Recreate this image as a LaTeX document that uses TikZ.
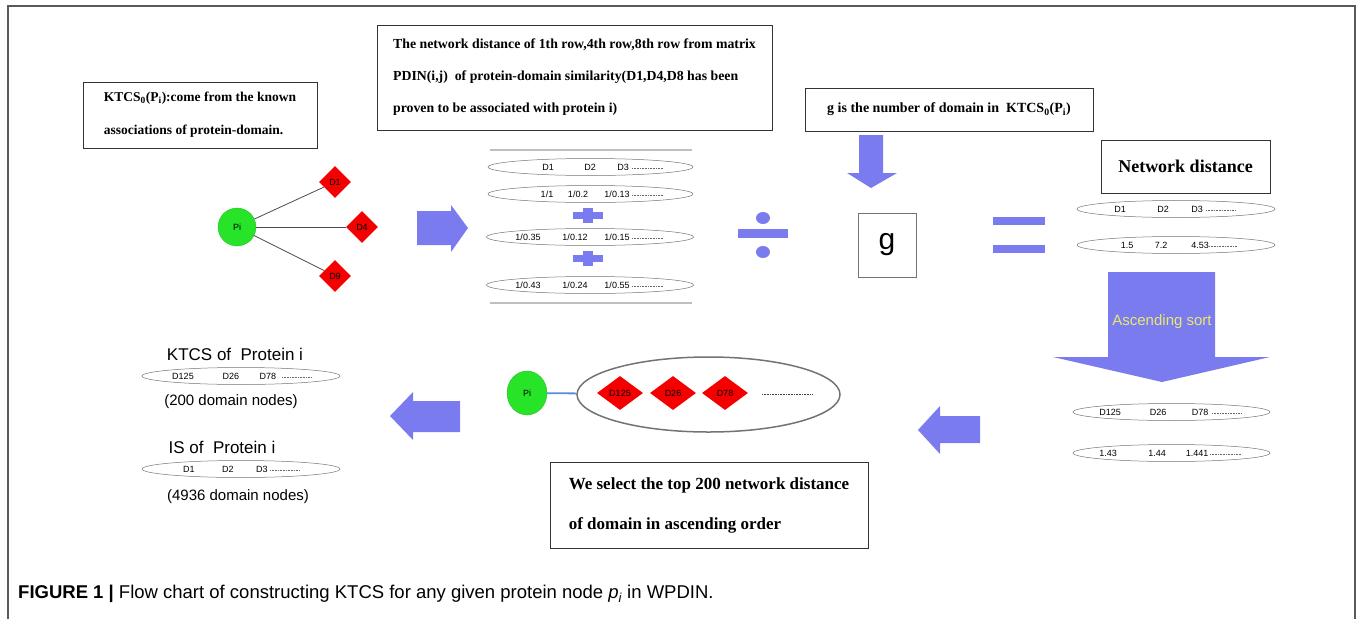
\documentclass[tikz,border=0pt]{standalone}
\usepackage{fontspec}
\setmainfont{Liberation Serif}
\setsansfont{Liberation Sans}
\usetikzlibrary{shapes.geometric}

\definecolor{flowblue}{RGB}{123,123,240}
\definecolor{nodegreen}{RGB}{40,228,40}
\definecolor{domred}{RGB}{245,0,0}
\definecolor{sortyellow}{RGB}{232,232,110}
\definecolor{linkblue}{RGB}{90,140,215}
\newcommand{\ktcsset}{KTCS\textsubscript{0}(P\textsubscript{i})}

\begin{document}
\begin{tikzpicture}[x=1pt,y=-1pt,
  textbox/.style={draw=black!80, line width=0.9pt, rectangle, inner sep=0pt, align=left, font=\bfseries},
  rowoval/.style={ellipse, draw=black!55, line width=0.5pt, inner sep=0pt, minimum height=17pt},
  cell/.style={font=\sffamily\fontsize{9}{9}\selectfont, inner sep=0pt},
  dotrun/.style={draw=black!60, line width=0.6pt, dash pattern=on 0.6pt off 1pt},
  protein/.style={circle, fill=nodegreen, draw=nodegreen!80!black, line width=0.3pt, inner sep=0pt, font=\sffamily\fontsize{9}{9}\selectfont},
  domnode/.style={diamond, fill=domred, inner sep=0pt, font=\sffamily\fontsize{9}{9}\selectfont},
  plaintext/.style={font=\sffamily, inner sep=0pt},
  outerframe/.style={draw=black!65, line width=1.5pt},
  ruleline/.style={draw=black!25, line width=1.2pt}
]
\useasboundingbox (0,0) rectangle (1358,619);

% outer frame
\draw[outerframe] (8,619) -- (8,6) -- (1355,6) -- (1355,619);

% ---- explanation boxes ----
\node[textbox, minimum width=234, minimum height=66, font=\bfseries\fontsize{13.5}{33}\selectfont]
  (kbox) at (200,115) {\ktcsset:come from the known\\associations of protein-domain.};
\node[textbox, minimum width=395, minimum height=105, font=\bfseries\fontsize{13.8}{32}\selectfont]
  (pbox) at (574.5,77.5) {The network distance of 1th row,4th row,8th row from matrix\\PDIN(i,j)\ \ of protein-domain similarity(D1,D4,D8 has been\\proven to be associated with protein i)};
\node[textbox, minimum width=288, minimum height=43, font=\bfseries\fontsize{14}{16}\selectfont]
  (gbox) at (949,109.5) {g is the number of domain in\ \ \ktcsset};
\node[textbox, minimum width=169, minimum height=53, font=\bfseries\fontsize{18}{20}\selectfont]
  (nbox) at (1185.5,166.5) {Network distance};
\node[textbox, minimum width=318, minimum height=86, font=\bfseries\fontsize{17}{40}\selectfont]
  (sbox) at (709,505) {We select the top 200 network distance\\of domain in ascending order};

% ---- known associations of protein i ----
\node[protein, minimum size=38] (pi1) at (237,227) {Pi};
\node[domnode, minimum width=32, minimum height=32] (d1) at (335,182) {D1};
\node[domnode, minimum width=32, minimum height=32] (d4) at (362,227) {D4};
\node[domnode, minimum width=32, minimum height=32] (d9) at (335,276) {D9};
\foreach \d in {d1,d4,d9}
  \draw[black!70, line width=0.8pt] (pi1) -- (\d);

% ---- block arrows ----
\fill[flowblue] (417,211) -- (451,211) -- (451,205) -- (468,228) -- (451,252) -- (451,245) -- (417,245) -- cycle;
\fill[flowblue] (859,135) -- (883,135) -- (883,173) -- (897,173) -- (871,188) -- (847,173) -- (859,173) -- cycle;
\fill[flowblue] (1108,272) -- (1215,272) -- (1215,357) -- (1270,357) -- (1162,382) -- (1053,357) -- (1108,357) -- cycle;
\node[plaintext, text=sortyellow, font=\sffamily\fontsize{15}{15}\selectfont] (sortlbl) at (1162,322) {Ascending sort};
\fill[flowblue] (980,416) -- (940,416) -- (940,406) -- (918,430) -- (940,454) -- (940,443) -- (980,443) -- cycle;
\fill[flowblue] (460,401) -- (413,401) -- (413,392) -- (390,416) -- (413,440) -- (413,432) -- (460,432) -- cycle;

% ---- summed reciprocal distances ----
\draw[ruleline] (490,150) -- (692,150);
\draw[ruleline] (490,303) -- (692,303);
\node[rowoval, minimum width=205] (m1) at (590.5,167) {};
\node[rowoval, minimum width=205] (m2) at (590.5,194) {};
\node[rowoval, minimum width=207] (m3) at (590,237) {};
\node[rowoval, minimum width=207] (m4) at (590,285) {};
\foreach \t/\x [count=\i] in {D1/548, D2/590, D3/623}
  \node[cell] (m1c\i) at (\x,167) {\t};
\foreach \t/\x [count=\i] in {{1/1}/547, {1/0.2}/578, {1/0.13}/617}
  \node[cell] (m2c\i) at (\x,194) {\t};
\foreach \t/\x [count=\i] in {{1/0.35}/528, {1/0.12}/575, {1/0.15}/617}
  \node[cell] (m3c\i) at (\x,237) {\t};
\foreach \t/\x [count=\i] in {{1/0.43}/528, {1/0.24}/575, {1/0.55}/617}
  \node[cell] (m4c\i) at (\x,285) {\t};
\draw[dotrun] (632,168) -- (663,168);
\draw[dotrun] (632,195) -- (663,195);
\draw[dotrun] (632,238) -- (663,238);
\draw[dotrun] (632,286) -- (663,286);
% plus signs
\foreach \y in {215,258} {
  \fill[flowblue] (573,\y-3.5) rectangle (603,\y+3.5);
  \fill[flowblue] (583,\y-7.5) rectangle (593,\y+7.5);
}

% ---- divide by g ----
\fill[flowblue] (763,218) ellipse (7 and 6);
\fill[flowblue] (763,252) ellipse (7 and 6);
\fill[flowblue] (738,229) rectangle (788,238);
\node[draw=black!55, line width=1pt, minimum width=58, minimum height=64, inner sep=0pt,
      font=\sffamily\fontsize{30}{30}\selectfont] (g) at (887,245) {g};
\fill[flowblue] (993,217) rectangle (1045,225);
\fill[flowblue] (993,245) rectangle (1045,253);

% ---- network distance rows ----
\node[rowoval, minimum width=198] (n1) at (1176,209) {};
\node[rowoval, minimum width=198] (n2) at (1176,245) {};
\foreach \t/\x [count=\i] in {D1/1120, D2/1163, D3/1197}
  \node[cell] (n1c\i) at (\x,209) {\t};
\foreach \t/\x [count=\i] in {1.5/1127, 7.2/1161, 4.53/1200}
  \node[cell] (n2c\i) at (\x,245) {\t};
\draw[dotrun] (1206,210) -- (1235,210);
\draw[dotrun] (1209,246) -- (1237,246);

% ---- sorted rows ----
\node[rowoval, minimum width=197] (s1) at (1171.5,412) {};
\node[rowoval, minimum width=197] (s2) at (1171.5,453) {};
\foreach \t/\x [count=\i] in {D125/1110, D26/1158, D78/1200}
  \node[cell] (s1c\i) at (\x,412) {\t};
\foreach \t/\x [count=\i] in {1.43/1108, 1.44/1157, 1.441/1197}
  \node[cell] (s2c\i) at (\x,453) {\t};
\draw[dotrun] (1212,413) -- (1242,413);
\draw[dotrun] (1210,454) -- (1242,454);

% ---- selected top domains ----
\node[protein, ellipse, minimum width=40, minimum height=44] (pi2) at (527,393) {Pi};
\node[ellipse, draw=black!55, line width=1.5pt, minimum width=263, minimum height=75] (top) at (708.5,394.5) {};
\draw[linkblue, line width=1.8pt] (pi2) -- (top);
\node[domnode, minimum width=46, minimum height=34] (t1) at (620,393) {D125};
\node[domnode, minimum width=46, minimum height=34] (t2) at (673,393) {D26};
\node[domnode, minimum width=46, minimum height=34] (t3) at (725,393) {D78};
\draw[dotrun, draw=black!75] (762,394) -- (812,394);

% ---- resulting sets ----
\node[plaintext, font=\sffamily\fontsize{17}{17}\selectfont] (ktcslbl) at (235,354) {KTCS of\ \ Protein i};
\node[rowoval, minimum width=198] (k1) at (241,376) {};
\foreach \t/\x [count=\i] in {D125/183, D26/231, D78/268}
  \node[cell] (k1c\i) at (\x,376) {\t};
\draw[dotrun] (282,377) -- (312,377);
\node[plaintext, font=\sffamily\fontsize{15}{15}\selectfont] (ktcsn) at (231,402) {(200 domain nodes)};
\node[plaintext, font=\sffamily\fontsize{17}{17}\selectfont] (islbl) at (222,447) {IS of\ \ Protein i};
\node[rowoval, minimum width=198] (i1) at (241,469) {};
\foreach \t/\x [count=\i] in {D1/189, D2/228, D3/262}
  \node[cell] (i1c\i) at (\x,469) {\t};
\draw[dotrun] (270,470) -- (300,470);
\node[plaintext, font=\sffamily\fontsize{15}{15}\selectfont] (isn) at (238,497) {(4936 domain nodes)};

% ---- caption ----
\node[anchor=west, inner sep=0pt, font=\sffamily\fontsize{18.5}{18.5}\selectfont] (cap) at (18,594)
  {\textbf{FIGURE 1 |} Flow chart of constructing KTCS for any given protein node \textit{p\textsubscript{i}} in WPDIN.};
\end{tikzpicture}
\end{document}
